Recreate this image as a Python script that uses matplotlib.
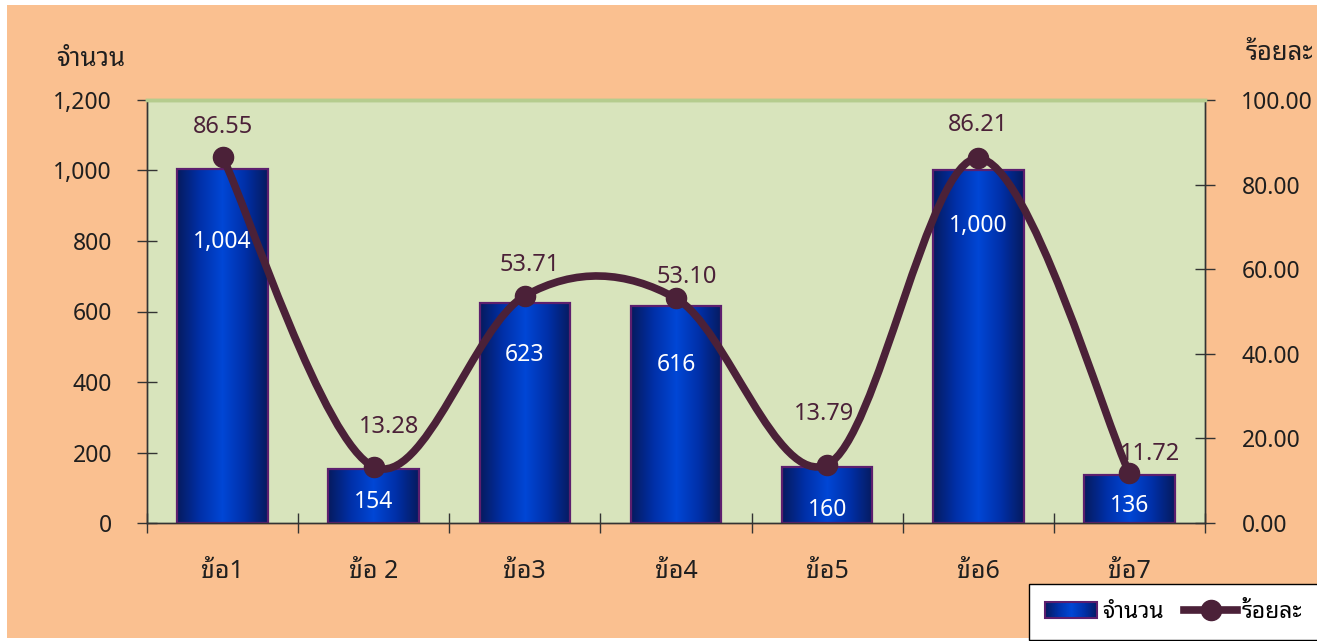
import matplotlib
matplotlib.use("Agg")
import matplotlib.pyplot as plt
import numpy as np
from matplotlib.colors import LinearSegmentedColormap
from matplotlib.patches import Rectangle, PathPatch
from matplotlib.path import Path
from matplotlib.lines import Line2D
from matplotlib.legend_handler import HandlerBase
from matplotlib.image import BboxImage
from matplotlib.transforms import Bbox, TransformedBbox

plt.rcParams['font.family'] = ['Noto Sans Thai Looped', 'DejaVu Sans']

# ---- data ----
categories = ["ข้อ1", "ข้อ 2", "ข้อ3", "ข้อ4", "ข้อ5", "ข้อ6", "ข้อ7"]
counts = [1004, 154, 623, 616, 160, 1000, 136]
percents = [86.55, 13.28, 53.71, 53.10, 13.79, 86.21, 11.72]
left_ticks = [0, 200, 400, 600, 800, 1000, 1200]
right_ticks = [0, 20, 40, 60, 80, 100]

# label placement (pixels), picked by eye from the original
pct_label_dx = [0, 15, 5, 11, -3, 0, 21]
pct_label_dy = [30, 40, 31, 21, 51, 33, 19]
cnt_label_dy = [73, 33, 52, 59, 43, 56, 31]

bg_orange = '#FAC090'
plot_green = '#D8E4BC'
line_col = '#4B2138'
bar_edge = '#5C1F6E'
text_col = '#1F1F1F'
bar_cmap = LinearSegmentedColormap.from_list(
    'bar', ['#061A5E', '#0030A8', '#0047D6', '#0030A8', '#061A5E'])
grad = np.linspace(0, 1, 256).reshape(1, -1)

px = 0.72  # points per pixel at dpi 100

fig = plt.figure(figsize=(13.17, 6.41), dpi=100, facecolor='white')
fig.patches.append(Rectangle((7 / 1317, 3 / 641), 1, 633 / 641, transform=fig.transFigure,
                             facecolor=bg_orange, edgecolor='none', zorder=-10))

ax = fig.add_axes([147 / 1317, 118 / 641, 1058 / 1317, 423 / 641])
ax.set_facecolor(plot_green)
ax2 = ax.twinx()
ax2.patch.set_visible(False)

x = np.arange(len(categories))
bw = 0.6
for xi, c in zip(x, counts):
    ax.imshow(grad, cmap=bar_cmap, aspect='auto', interpolation='bicubic',
              extent=[xi - bw / 2, xi + bw / 2, 0, c], zorder=2)
ax.bar(x, counts, width=bw, facecolor='none', edgecolor=bar_edge, linewidth=1.6, zorder=3)

ax.set_xlim(-0.5, len(categories) - 0.5)
ax.set_ylim(0, 1200)
ax2.set_ylim(0, 100)

# smoothed line (Excel-style bezier through the points)
P = np.column_stack([x, percents]).astype(float)
n = len(P)
verts = [P[0]]
codes = [Path.MOVETO]
for i in range(n - 1):
    p_prev = P[max(i - 1, 0)]
    p_next2 = P[min(i + 2, n - 1)]
    c1 = P[i] + (P[i + 1] - p_prev) / 6
    c2 = P[i + 1] - (p_next2 - P[i]) / 6
    verts += [c1, c2, P[i + 1]]
    codes += [Path.CURVE4] * 3
ax2.add_patch(PathPatch(Path(verts, codes), facecolor='none', edgecolor=line_col,
                        linewidth=5.5, capstyle='round', zorder=4))
ax2.plot(x, percents, linestyle='none', marker='o', markersize=14.5,
         color=line_col, zorder=5)

for xi, v, dx, dy in zip(x, percents, pct_label_dx, pct_label_dy):
    ax2.annotate(f"{v:.2f}", (xi, v), xytext=(dx * px, dy * px), textcoords='offset points',
                 ha='center', va='center', fontsize=17, color=line_col, zorder=6)
for xi, c, dy in zip(x, counts, cnt_label_dy):
    ax2.annotate(f"{c:,}", (xi, c), xycoords=ax.transData, xytext=(0, -dy * px),
                 textcoords='offset points', ha='center', va='center', fontsize=16.5,
                 color='white', zorder=6)

# axes styling
for a in (ax, ax2):
    for s in ('left', 'right', 'bottom'):
        a.spines[s].set_color('#333333')
        a.spines[s].set_linewidth(1.0)
    a.spines['top'].set_color('#B5CC8E')
    a.spines['top'].set_linewidth(2.5)

ax.set_yticks(left_ticks)
ax.set_yticklabels([f"{t:,}" for t in left_ticks])
ax2.set_yticks(right_ticks)
ax2.set_yticklabels([f"{t:.2f}" for t in right_ticks])
ax.tick_params(axis='y', direction='inout', length=14.4, width=1, color='#333333',
               labelsize=16.5, labelcolor=text_col, pad=18)
ax2.tick_params(axis='y', direction='inout', length=14.4, width=1, color='#333333',
                labelsize=16.5, labelcolor=text_col, pad=19)

ax.set_xticks(x)
ax.set_xticklabels(categories)
ax.set_xticks(np.arange(-0.5, len(categories)), minor=True)
ax.tick_params(axis='x', which='major', length=0, labelsize=18, labelcolor=text_col, pad=26)
ax.tick_params(axis='x', which='minor', direction='inout', length=14.4, width=1, color='#333333')

fig.text(91 / 1317, 1 - 60 / 641, "จำนวน", ha='center', va='center', fontsize=18.5, color=text_col)
fig.text(1279 / 1317, 1 - 54 / 641, "ร้อยละ", ha='center', va='center', fontsize=18.5, color=text_col)


class GradientHandler(HandlerBase):
    def create_artists(self, legend, orig_handle, xdescent, ydescent, width, height,
                       fontsize, trans):
        bb = TransformedBbox(Bbox.from_bounds(-xdescent, -ydescent, width, height), trans)
        img = BboxImage(bb, cmap=bar_cmap, interpolation='bicubic')
        img.set_data(grad)
        rect = Rectangle((-xdescent, -ydescent), width, height, facecolor='none',
                         edgecolor=bar_edge, linewidth=1.5, transform=trans)
        return [img, rect]


bar_handle = Rectangle((0, 0), 1, 1)
line_handle = Line2D([], [], color=line_col, linewidth=5.5, marker='o', markersize=14.5)
leg = fig.legend([bar_handle, line_handle], ["จำนวน", "ร้อยละ"],
                 handler_map={Rectangle: GradientHandler()},
                 loc='lower right', bbox_to_anchor=(1.002, 0.0), ncol=2, fontsize=16.5,
                 frameon=True, fancybox=False, edgecolor='black', facecolor='white',
                 framealpha=1, handlelength=2.3, handleheight=0.7, handletextpad=0.2,
                 columnspacing=0.9, borderpad=0.7, borderaxespad=0.05)
leg.get_frame().set_linewidth(1.0)

fig.savefig("out.png", dpi=100, facecolor='white')
